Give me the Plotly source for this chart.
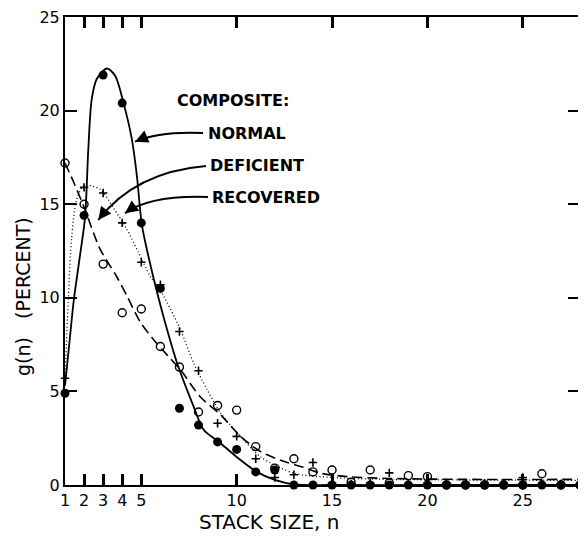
import plotly.graph_objects as go

# ---------------- data ----------------
n_points = list(range(1, 29))

normal_pts = [4.9, 14.4, 21.9, 20.4, 14.0, 10.5, 4.1, 3.2, 2.3, 1.9, 0.7, 0.8,
              0.0, 0.0, 0.0, 0.0, 0.0, 0.0, 0.0, 0.0, 0.0, 0.0, 0.0, 0.0,
              0.0, 0.0, 0.0, 0.0]
deficient_pts = [17.2, 15.0, 11.8, 9.2, 9.4, 7.4, 6.3, 3.9, 4.25, 4.0, 2.05, 0.9,
                 1.4, 0.7, 0.8, 0.15, 0.8, 0.1, 0.5, 0.45, 0.0, 0.0, 0.0, 0.0,
                 0.0, 0.6, 0.0, 0.0]
recovered_pts = [5.7, 15.9, 15.6, 14.0, 11.9, 10.7, 8.2, 6.1, 3.3, 2.6, 1.4, 0.4,
                 0.55, 1.2, 0.1, 0.05, 0.1, 0.65, 0.05, 0.1, 0.1, 0.1, 0.1, 0.1,
                 0.4, 0.05, 0.05, 0.05]

# fitted curves
normal_curve_n = [1.0, 1.25, 1.47, 1.75, 2.05, 2.22, 2.4, 2.67, 3.2, 3.63, 4.07,
                  4.5, 4.77, 5.03, 5.4, 5.8, 6.35, 6.88, 7.74, 8.27, 9.07, 10.0,
                  11.06, 12.0, 13.0, 15.0, 20.0, 28.0]
normal_curve_g = [5.3, 7.8, 9.95, 12.0, 14.3, 17.9, 20.6, 21.7, 22.25, 21.86, 20.4,
                  18.5, 16.5, 13.9, 12.1, 10.4, 8.3, 6.5, 4.2, 2.95, 2.3, 1.5,
                  0.7, 0.27, 0.03, 0.0, 0.0, 0.0]

deficient_curve_n = [1.0, 1.53, 2.05, 2.84, 3.7, 4.25, 4.95, 5.65, 6.35, 7.05, 8.1,
                     9.16, 10.2, 11.26, 12.5, 13.4, 14.4, 15.8, 18.0, 22.0, 28.0]
deficient_curve_g = [17.2, 16.0, 14.7, 12.6, 11.15, 10.1, 8.7, 7.76, 6.95, 6.16, 4.7,
                     3.75, 2.6, 1.78, 1.25, 0.98, 0.63, 0.45, 0.35, 0.3, 0.3]

recovered_curve_n = [1.0, 1.18, 1.35, 1.6, 2.0, 2.84, 3.54, 4.25, 4.86, 5.47, 6.0,
                     7.05, 7.75, 8.45, 9.16, 10.2, 11.26, 13.0, 15.0, 18.0, 28.0]
recovered_curve_g = [5.6, 10.1, 13.2, 15.2, 16.0, 15.8, 14.8, 13.65, 12.4, 11.15, 10.4,
                     8.3, 6.5, 5.1, 3.84, 2.6, 1.5, 0.63, 0.4, 0.3, 0.25]

x_tick_vals = [1, 2, 3, 4, 5, 10, 15, 20, 25]
x_tick_text = ["1", "2", "3", "4", "5", "10", "15", "20", "25"]
y_tick_vals = [0, 5, 10, 15, 20, 25]

label_title = "COMPOSITE:"
label_names = ["NORMAL", "DEFICIENT", "RECOVERED"]

# ---------------- figure ----------------
PAGE_OFF = 8               # default body margin of the html page
W, H = 586 - PAGE_OFF, 537 - PAGE_OFF
L, R, T, B = 65, 580, 17, 485     # plot box in window pixels
X0, X1 = 1, 28
Y0, Y1 = 0, 25


def px2x(px):
    return X0 + (px - L) * (X1 - X0) / (R - L)


def px2y(py):
    return Y0 + (B - py) * (Y1 - Y0) / (B - T)


FONT = "DejaVu Sans"
fig = go.Figure()

fig.add_trace(go.Scatter(x=deficient_curve_n, y=deficient_curve_g, mode="lines",
                         line=dict(color="black", width=1.6, dash="10px,5px",
                                   shape="spline", smoothing=0.8),
                         hoverinfo="skip", showlegend=False))
fig.add_trace(go.Scatter(x=recovered_curve_n, y=recovered_curve_g, mode="lines",
                         line=dict(color="black", width=1.3, dash="1px,2.5px",
                                   shape="spline", smoothing=0.8),
                         hoverinfo="skip", showlegend=False))
fig.add_trace(go.Scatter(x=normal_curve_n, y=normal_curve_g, mode="lines",
                         line=dict(color="black", width=1.8, shape="spline",
                                   smoothing=0.8),
                         hoverinfo="skip", showlegend=False))

fig.add_trace(go.Scatter(x=n_points, y=deficient_pts, mode="markers",
                         marker=dict(symbol="circle-open", size=8, color="black",
                                     line=dict(width=1.4, color="black")),
                         cliponaxis=False, showlegend=False))
fig.add_trace(go.Scatter(x=n_points, y=recovered_pts, mode="markers",
                         marker=dict(symbol="cross-thin", size=6, color="black",
                                     line=dict(width=1.6, color="black")),
                         cliponaxis=False, showlegend=False))
fig.add_trace(go.Scatter(x=n_points, y=normal_pts, mode="markers",
                         marker=dict(symbol="circle", size=9, color="black"),
                         cliponaxis=False, showlegend=False))

# text labels
annotations = [
    dict(x=px2x(175), y=px2y(100), text=label_title),
    dict(x=px2x(206), y=px2y(133), text=label_names[0]),
    dict(x=px2x(208), y=px2y(165), text=label_names[1]),
    dict(x=px2x(210), y=px2y(197), text=label_names[2]),
]
for a in annotations:
    fig.add_annotation(xref="x", yref="y", x=a["x"], y=a["y"], text="<b>%s</b>" % a["text"],
                       showarrow=False, xanchor="left", yanchor="middle",
                       font=dict(family=FONT, size=16, color="black"))

# curved arrows: (tail, control, head) in window pixels
arrows = [
    ((203, 133), (160, 131), (135, 141.7)),
    ((206, 166), (135, 172), (98.3, 220)),
    ((208, 197), (150, 195), (125, 213.3)),
]
for (tx, ty), (cx, cy), (hx, hy) in arrows:
    path = "M %f,%f Q %f,%f %f,%f" % (px2x(tx), px2y(ty), px2x(cx), px2y(cy),
                                     px2x(hx), px2y(hy))
    fig.add_shape(type="path", path=path, xref="x", yref="y",
                  line=dict(color="black", width=2))
    dx, dy = cx - hx, cy - hy
    ln = (dx * dx + dy * dy) ** 0.5
    fig.add_annotation(xref="x", yref="y", x=px2x(hx), y=px2y(hy), text="",
                       showarrow=True, arrowhead=2, arrowsize=1.3, arrowwidth=2,
                       arrowcolor="black", ax=dx / ln * 14, ay=dy / ln * 14,
                       standoff=0)

# axis titles as annotations (positioned like the reference)
fig.add_annotation(xref="paper", yref="paper", x=(269 - L) / (R - L),
                   y=(B - 536) / (B - T), text="STACK SIZE, n", showarrow=False,
                   xanchor="center", yanchor="bottom",
                   font=dict(family=FONT, size=20, color="black"))
fig.add_annotation(xref="paper", yref="paper", x=(23 - L) / (R - L),
                   y=(B - 297) / (B - T), text="g(n)   (PERCENT)", showarrow=False,
                   textangle=-90, xanchor="center", yanchor="middle",
                   font=dict(family=FONT, size=19, color="black"))

fig.update_layout(
    width=W, height=H,
    margin=dict(l=L - PAGE_OFF, r=W - (R - PAGE_OFF), t=T - PAGE_OFF,
                b=H - (B - PAGE_OFF), pad=0, autoexpand=False),
    paper_bgcolor="white", plot_bgcolor="white",
    font=dict(family=FONT, size=15, color="black"),
    xaxis=dict(range=[X0, X1], tickmode="array", tickvals=x_tick_vals,
               ticktext=x_tick_text, ticks="inside", ticklen=11, tickwidth=2.6,
               tickcolor="black", showline=True, linewidth=2, linecolor="black",
               mirror="ticks", showgrid=False, zeroline=False,
               ticklabeloverflow="allow",
               tickfont=dict(family=FONT, size=16, color="black")),
    yaxis=dict(range=[Y0, Y1], tickmode="array", tickvals=y_tick_vals,
               ticks="inside", ticklen=12, tickwidth=2, tickcolor="black",
               showline=True, linewidth=2, linecolor="black", mirror="ticks",
               showgrid=False, zeroline=False, ticklabeloverflow="allow",
               tickfont=dict(family=FONT, size=16, color="black")),
)

fig.write_html("out.html")
